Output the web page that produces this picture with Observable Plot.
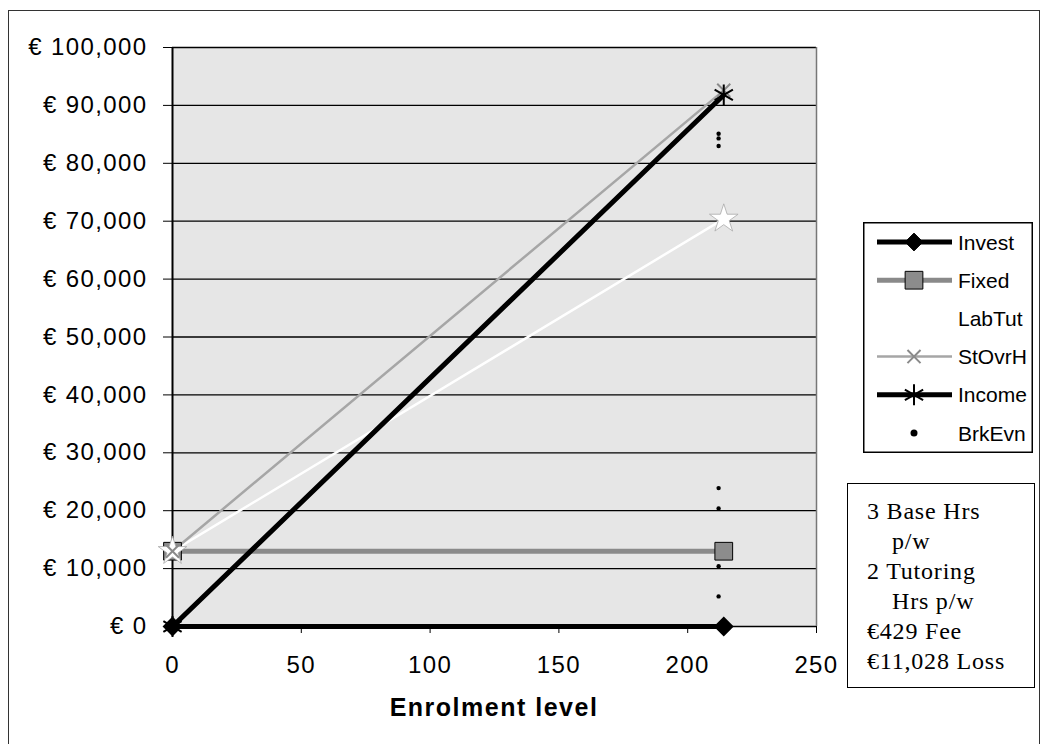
<!DOCTYPE html>
<html>
<head>
<meta charset="utf-8">
<script src="https://cdn.jsdelivr.net/npm/d3@7"></script>
<script src="https://cdn.jsdelivr.net/npm/@observablehq/plot@0.6"></script>
<style>
  body { margin: 0; background: #fff; }
  #wrap { position: relative; width: 1046px; height: 744px; overflow: hidden; font-family: "Liberation Sans", Arial, sans-serif; }
  #outer { position: absolute; left: 8px; top: 10px; width: 1032px; height: 800px; border: 1.5px solid #333; box-sizing: border-box; }
  #chart { position: absolute; left: 0; top: 0; }
  #legend { position: absolute; left: 863px; top: 222px; }
  #notes { position: absolute; left: 847px; top: 483px; width: 188px; height: 205px; border: 1.5px solid #000; box-sizing: border-box;
           padding: 12px 0 0 19px; font-family: "Liberation Serif", "Times New Roman", serif; font-size: 24px; line-height: 30px; letter-spacing: 0.8px; color: #000; background: #fff; }
  #notes div.ind { padding-left: 25px; }
  #xtitle { position: absolute; left: 172px; width: 644px; top: 693px; text-align: center; font-weight: bold; font-size: 25px; line-height: 28px; letter-spacing: 1.5px; color: #000; }
</style>
</head>
<body>
<div id="wrap">
  <div id="outer"></div>
  <div id="chart"></div>
  <div id="legend"></div>
  <div id="notes"></div>
  <div id="xtitle"></div>
</div>
<script>
// ---- data ----
const enrolment = [0, 214];
const invest = [0, 0];
const fixed = [13000, 13000];
const labTut = [13000, 70400];
const stOvrH = [13000, 92600];
const income = [0, 91806];
const brkEvnX = [212, 212, 212, 212, 212, 212, 212];
const brkEvnY = [5200, 10400, 20400, 23900, 83000, 84300, 85100];
const xTicks = [0, 50, 100, 150, 200, 250];
const yTicks = [0, 10000, 20000, 30000, 40000, 50000, 60000, 70000, 80000, 90000, 100000];
const seriesNames = ["Invest", "Fixed", "LabTut", "StOvrH", "Income", "BrkEvn"];
const noteLines = ["3 Base Hrs", "p/w", "2 Tutoring", "Hrs p/w", "€429 Fee", "€11,028 Loss"];
const noteIndent = [false, true, false, true, false, false];
const axisTitle = "Enrolment level";

// ---- tables ----
const rows = arr => enrolment.map((x, i) => ({x, y: arr[i]}));
const investRows = rows(invest);
const fixedRows = rows(fixed);
const labRows = rows(labTut);
const stRows = rows(stOvrH);
const incomeRows = rows(income);
const brkRows = brkEvnX.map((x, i) => ({x, y: brkEvnY[i]}));

const style = {
  invest: {stroke: "#000", w: 5, symbol: "diamond2", r: 8, fill: "#000", mstroke: "#000"},
  fixed: {stroke: "#8a8a8a", w: 5, symbol: "square", r: 10, fill: "#8c8c8c", mstroke: "#000"},
  lab: {stroke: "#fff", w: 2.5, symbol: "star", r: 9, fill: "#fff", mstroke: "#fff"},
  st: {stroke: "#a6a6a6", w: 2.5, symbol: "times", r: 6, fill: "none", mstroke: "#8a8a8a"},
  income: {stroke: "#000", w: 5, symbol: "asterisk", r: 10, fill: "none", mstroke: "#000"}
};

const fmt = d3.format(",");
const plot = Plot.plot({
  width: 1046,
  height: 744,
  marginLeft: 172,
  marginRight: 230,
  marginTop: 47,
  marginBottom: 118,
  style: {fontFamily: "'Liberation Sans', Arial, sans-serif", fontSize: "24px", background: "transparent", color: "#000", overflow: "visible"},
  x: {domain: [0, 250], label: null},
  y: {domain: [0, 100000], label: null},
  marks: [
    Plot.frame({fill: "#e6e6e6", stroke: null}),
    Plot.ruleY(yTicks, {stroke: "#000", strokeWidth: 1.3}),
    Plot.ruleX([250], {stroke: "#777", strokeWidth: 1.5}),
    Plot.ruleX([0], {stroke: "#000", strokeWidth: 2}),
    Plot.axisY({ticks: yTicks, tickFormat: d => "€ " + fmt(d), tickSize: 9, tickPadding: 16, label: null, stroke: "#000"}),
    Plot.axisX({ticks: xTicks, tickSize: 7, tickPadding: 22, label: null, stroke: "#000"}),
    Plot.line(fixedRows, {x: "x", y: "y", stroke: style.fixed.stroke, strokeWidth: style.fixed.w}),
    Plot.line(labRows, {x: "x", y: "y", stroke: style.lab.stroke, strokeWidth: style.lab.w}),
    Plot.line(stRows, {x: "x", y: "y", stroke: style.st.stroke, strokeWidth: style.st.w}),
    Plot.line(investRows, {x: "x", y: "y", stroke: style.invest.stroke, strokeWidth: style.invest.w}),
    Plot.line(incomeRows, {x: "x", y: "y", stroke: style.income.stroke, strokeWidth: style.income.w}),
    Plot.dot(fixedRows, {x: "x", y: "y", symbol: "square", r: style.fixed.r, fill: style.fixed.fill, stroke: "#000", strokeWidth: 1}),
    Plot.dot(labRows, {x: "x", y: "y", symbol: "star", r: style.lab.r, fill: "#fff", stroke: "#aaa", strokeWidth: 0.8}),
    Plot.dot(stRows, {x: "x", y: "y", symbol: "times", r: style.st.r, stroke: style.st.mstroke, strokeWidth: 2}),
    Plot.dot(investRows, {x: "x", y: "y", symbol: "diamond2", r: style.invest.r, fill: "#000", stroke: "#000"}),
    Plot.dot(incomeRows, {x: "x", y: "y", symbol: "asterisk", r: style.income.r, stroke: "#000", strokeWidth: 2}),
    Plot.dot(brkRows, {x: "x", y: "y", r: 2.2, fill: "#000", stroke: null})
  ]
});
d3.select(plot).selectAll("text").attr("letter-spacing", "1.4px").attr("fill", "#000");
document.getElementById("chart").appendChild(plot);

// ---- legend ----
const lw = 170, lh = 231;
const lsvg = d3.select("#legend").append("svg").attr("width", lw).attr("height", lh);
lsvg.append("rect").attr("x", 0.75).attr("y", 0.75).attr("width", lw - 1.5).attr("height", lh - 1.5)
  .attr("fill", "#fff").attr("stroke", "#000").attr("stroke-width", 1.5);
const symMap = {diamond2: d3.symbolDiamond2, square: d3.symbolSquare, star: d3.symbolStar, times: d3.symbolTimes, asterisk: d3.symbolAsterisk, circle: d3.symbolCircle};
const legendStyles = [style.invest, style.fixed, style.lab, style.st, style.income, {stroke: "none", w: 0, symbol: "circle", r: 3.5, fill: "#000", mstroke: "none"}];
seriesNames.forEach((name, i) => {
  const cy = 20 + i * 38.2;
  const s = legendStyles[i];
  const g = lsvg.append("g");
  if (s.w > 0) g.append("line").attr("x1", 14).attr("x2", 89).attr("y1", cy).attr("y2", cy).attr("stroke", s.stroke).attr("stroke-width", s.w);
  const lineSym = ["times", "asterisk"].includes(s.symbol);
  g.append("path").attr("transform", `translate(51,${cy})`)
    .attr("d", d3.symbol(symMap[s.symbol], Math.PI * s.r * s.r)())
    .attr("fill", lineSym ? "none" : s.fill)
    .attr("stroke", s.mstroke)
    .attr("stroke-width", lineSym ? 2 : 1);
  g.append("text").attr("x", 95).attr("y", cy).attr("dy", "0.36em")
    .attr("font-family", "'Liberation Sans', Arial, sans-serif").attr("font-size", 21)
    .text(name);
});

// ---- notes box ----
const notes = d3.select("#notes");
noteLines.forEach((t, i) => notes.append("div").attr("class", noteIndent[i] ? "ind" : null).text(t));
document.getElementById("xtitle").textContent = axisTitle;
</script>
</body>
</html>
